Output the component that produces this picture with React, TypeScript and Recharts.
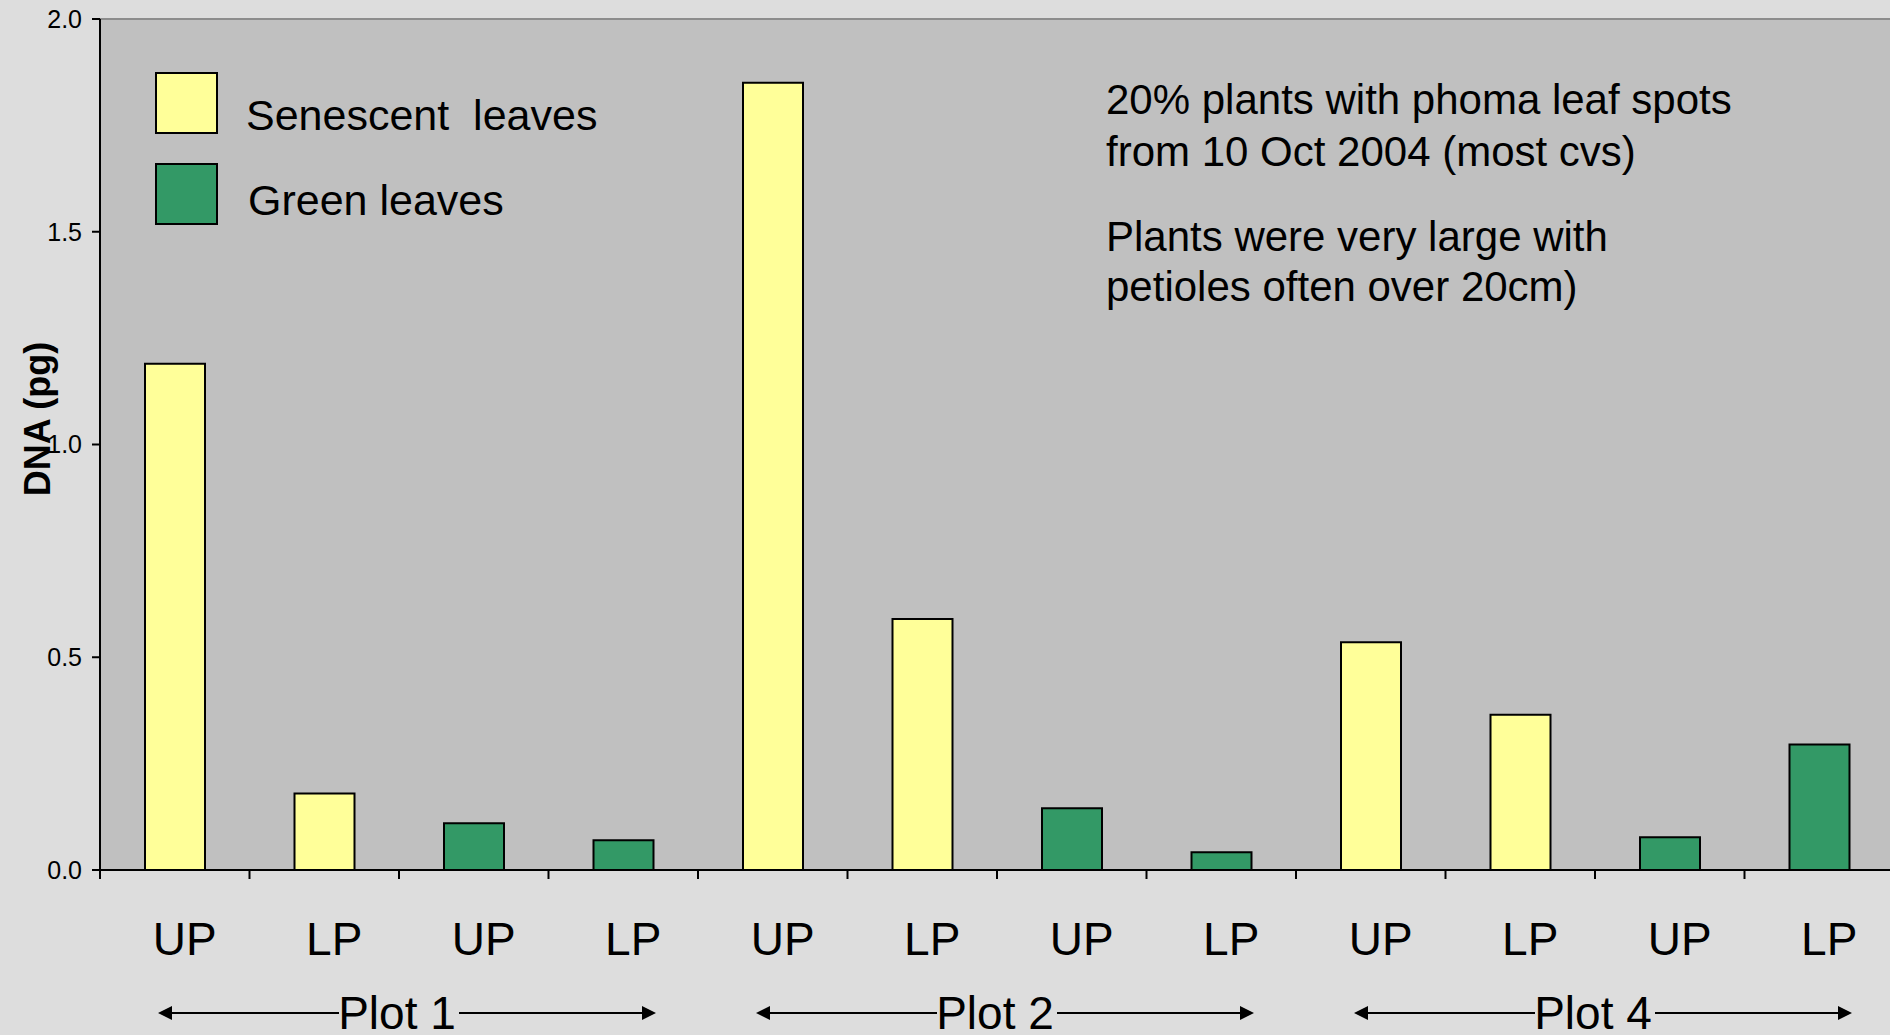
import React from 'react';
import {
  BarChart,
  Bar,
  XAxis,
  YAxis,
  CartesianGrid,
  ReferenceLine,
} from 'recharts';

// values (pg DNA)
const categories = ['UP', 'LP', 'UP', 'LP', 'UP', 'LP', 'UP', 'LP', 'UP', 'LP', 'UP', 'LP'];
const senescent = [1.19, 0.18, null, null, 1.85, 0.59, null, null, 0.535, 0.365, null, null];
const green = [null, null, 0.11, 0.07, null, null, 0.145, 0.042, null, null, 0.077, 0.295];
const plotNames = ['Plot 1', 'Plot 2', 'Plot 4'];
const yTicks = [0, 0.5, 1, 1.5, 2];
const seriesNames = ['Senescent  leaves', 'Green leaves'];
const seriesColors = ['#FFFF99', '#339966'];
const notes = [
  '20% plants with phoma leaf spots',
  'from 10 Oct 2004 (most cvs)',
  'Plants were very large with',
  'petioles often over 20cm)',
];

const data = categories.map((name, i) => ({
  name,
  senescent: senescent[i],
  green: green[i],
}));

const FONT = '"Liberation Sans", Arial, Helvetica, sans-serif';
const CHART_W = 1894;
const CHART_H = 1035;
const Y_W = 100;
const CAT_W = (CHART_W - Y_W) / categories.length;
const PER_PLOT = 4;

// category label + the boundary tick marks + the "Plot n" arrow under each group of 4
const CatTick = (props: any) => {
  const { x, y, payload, index } = props;
  const edge = x - CAT_W / 2;
  const isLast = index === categories.length - 1;
  let group = null;
  if (index % PER_PLOT === 1) {
    const cx = x + CAT_W / 2;
    const ay = y + 143;
    const left = cx - 2 * CAT_W + 58;
    const right = cx + 2 * CAT_W - 42;
    group = (
      <g>
        <line x1={left + 10} y1={ay} x2={cx - 60} y2={ay} stroke="#000" strokeWidth={2} />
        <line x1={cx + 60} y1={ay} x2={right - 10} y2={ay} stroke="#000" strokeWidth={2} />
        <polygon points={`${left},${ay} ${left + 14},${ay - 7} ${left + 14},${ay + 7}`} fill="#000" />
        <polygon points={`${right},${ay} ${right - 14},${ay - 7} ${right - 14},${ay + 7}`} fill="#000" />
        <text x={cx - 2} y={y + 159} textAnchor="middle" fontSize={46} fontFamily={FONT} fill="#000">
          {plotNames[Math.floor(index / PER_PLOT)]}
        </text>
      </g>
    );
  }
  return (
    <g>
      <line x1={edge} y1={y} x2={edge} y2={y + 9} stroke="#000" strokeWidth={2} />
      {isLast && (
        <line x1={x + CAT_W / 2} y1={y} x2={x + CAT_W / 2} y2={y + 9} stroke="#000" strokeWidth={2} />
      )}
      <text x={x + 10} y={y + 85} textAnchor="middle" fontSize={46} fontFamily={FONT} fill="#000">
        {payload.value}
      </text>
      {group}
    </g>
  );
};

const YLabel = (props: any) => {
  const vb = props.viewBox || { x: 0, y: 19 };
  const cx = vb.x + 50;
  const cy = vb.y + 400;
  return (
    <text
      x={cx}
      y={cy}
      transform={`rotate(-90, ${cx}, ${cy})`}
      textAnchor="middle"
      fontSize={36}
      fontWeight="bold"
      fontFamily={FONT}
      fill="#000"
    >
      DNA (pg)
    </text>
  );
};

export default function App() {
  return (
    <div
      style={{
        position: 'absolute',
        left: 0,
        top: 0,
        width: 1890,
        height: 1035,
        overflow: 'hidden',
        background: '#DDDDDD',
        fontFamily: FONT,
      }}
    >
      <BarChart
        width={CHART_W}
        height={CHART_H}
        data={data}
        margin={{ top: 19, right: 0, left: 0, bottom: 164 }}
      >
        <CartesianGrid horizontal={false} vertical={false} fill="#C0C0C0" />
        <XAxis
          dataKey="name"
          height={1}
          tickLine={false}
          axisLine={{ stroke: '#000', strokeWidth: 2 }}
          tickSize={0}
          tickMargin={0}
          interval={0}
          tick={<CatTick />}
        />
        <YAxis
          domain={[0, 2]}
          ticks={yTicks}
          interval={0}
          width={Y_W}
          tickFormatter={(v: number) => v.toFixed(1)}
          tickSize={8}
          tickMargin={10}
          axisLine={{ stroke: '#000', strokeWidth: 2 }}
          tickLine={{ stroke: '#000', strokeWidth: 2 }}
          tick={{ fill: '#000', fontSize: 25, fontFamily: FONT }}
          label={<YLabel />}
        />
        <ReferenceLine y={2} stroke="#8c8c8c" strokeWidth={2} />
        <Bar
          dataKey="senescent"
          name={seriesNames[0]}
          stackId="a"
          fill={seriesColors[0]}
          stroke="#000"
          strokeWidth={2}
          barSize={60}
          isAnimationActive={false}
        />
        <Bar
          dataKey="green"
          name={seriesNames[1]}
          stackId="a"
          fill={seriesColors[1]}
          stroke="#000"
          strokeWidth={2}
          barSize={60}
          isAnimationActive={false}
        />
      </BarChart>
      <svg
        width={1890}
        height={1035}
        style={{ position: 'absolute', left: 0, top: 0, pointerEvents: 'none' }}
      >
        {seriesNames.map((n, i) => (
          <g key={n}>
            <rect
              x={156}
              y={73 + i * 91}
              width={61}
              height={60}
              fill={seriesColors[i]}
              stroke="#000"
              strokeWidth={2}
            />
            <text
              x={246 + i * 2}
              y={130 + i * 85}
              fontSize={43}
              fontFamily={FONT}
              fill="#000"
              style={{ whiteSpace: 'pre' }}
            >
              {n}
            </text>
          </g>
        ))}
        {notes.map((t, i) => (
          <text
            key={i}
            x={1106}
            y={[114, 166, 251, 301][i]}
            fontSize={42}
            fontFamily={FONT}
            fill="#000"
          >
            {t}
          </text>
        ))}
      </svg>
    </div>
  );
}
